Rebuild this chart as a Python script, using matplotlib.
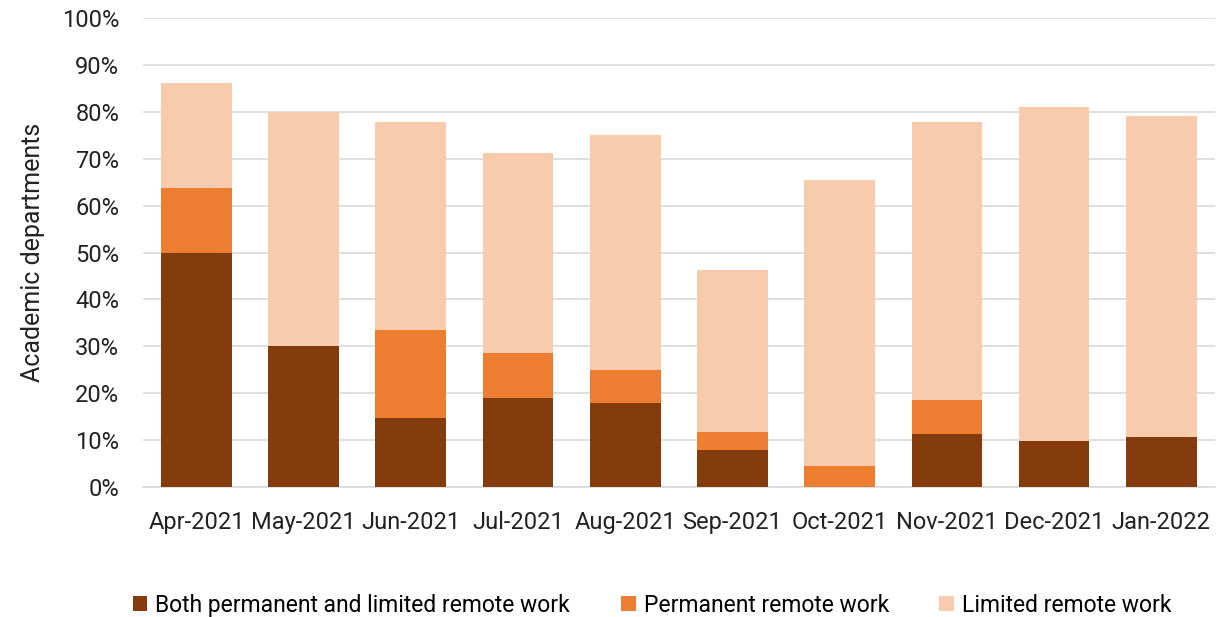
import matplotlib.pyplot as plt
import numpy as np
from matplotlib.ticker import PercentFormatter

plt.rcParams['font.family'] = ['Roboto', 'DejaVu Sans']

months = ["Apr-2021", "May-2021", "Jun-2021", "Jul-2021", "Aug-2021",
          "Sep-2021", "Oct-2021", "Nov-2021", "Dec-2021", "Jan-2022"]
both = [50.0, 30.0, 14.7, 19.0, 17.9, 7.9, 0.0, 11.3, 9.8, 10.7]
permanent = [13.8, 0.0, 18.8, 9.6, 7.1, 3.8, 4.5, 7.2, 0.0, 0.0]
limited = [22.3, 50.0, 44.3, 42.6, 50.0, 34.6, 61.0, 59.3, 71.2, 68.4]

c_both = "#843C0C"
c_perm = "#ED7D31"
c_lim = "#F8CBAD"

fig = plt.figure(figsize=(12.21, 6.17), dpi=100)
ax = fig.add_axes([0.117, 0.2107, 0.878, 0.760])

x = np.arange(len(months))
w = 0.66
b1 = np.array(both)
b2 = b1 + np.array(permanent)
ax.bar(x, both, w, color=c_both, label="Both permanent and limited remote work", zorder=3)
ax.bar(x, permanent, w, bottom=b1, color=c_perm, label="Permanent remote work", zorder=3)
ax.bar(x, limited, w, bottom=b2, color=c_lim, label="Limited remote work", zorder=3)

ax.set_xlim(-0.5, len(months) - 0.5)
ax.set_ylim(0, 100)
ax.set_yticks(np.arange(0, 101, 10))
ax.yaxis.set_major_formatter(PercentFormatter(decimals=0))
ax.set_xticks(x)
ax.set_xticklabels(months)
ax.tick_params(axis='both', length=0, labelsize=17, colors="#222222")
ax.tick_params(axis='x', pad=17)
ax.tick_params(axis='y', pad=17)
ax.grid(axis='y', color="#D9D9D9", lw=1.2, zorder=0)
for s in ["top", "right", "left"]:
    ax.spines[s].set_visible(False)
ax.spines["bottom"].set_color("#D9D9D9")
ax.spines["bottom"].set_linewidth(1.2)
ax.set_ylabel("Academic departments", fontsize=18, color="#222222", labelpad=12)

ax.legend(loc="center", bbox_to_anchor=(0.475, -0.252), ncol=3, frameon=False,
          fontsize=16.5, handlelength=0.65, handleheight=0.65, handletextpad=0.35,
          columnspacing=2.2, borderpad=0.2)

fig.savefig("out.png", dpi=100)
